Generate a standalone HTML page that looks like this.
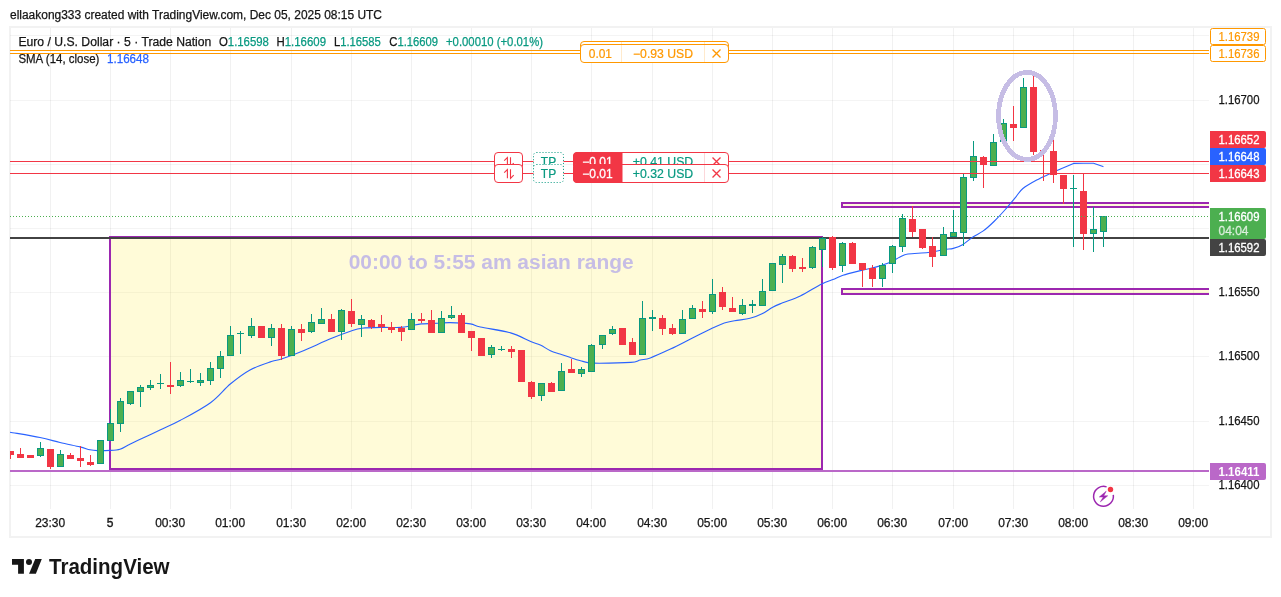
<!DOCTYPE html><html><head><meta charset="utf-8"><title>chart</title>
<style>
html,body{margin:0;padding:0;background:#fff;}
body{width:1281px;height:597px;position:relative;overflow:hidden;font-family:"Liberation Sans",sans-serif;}
svg{position:absolute;left:0;top:0;will-change:transform;}
text{font-family:"Liberation Sans",sans-serif;}
.d{stroke:#151515;stroke-width:0.25px;}
.t{position:absolute;white-space:nowrap;font-size:12px;line-height:14px;color:#131722;}
</style></head><body>
<svg width="1281" height="597" viewBox="0 0 1281 597">
<rect x="10" y="27" width="1261" height="510" fill="#fff" stroke="#F2F2F2" stroke-width="2"/>
<defs><clipPath id="plot"><rect x="10" y="28" width="1199" height="481"/></clipPath></defs>
<g clip-path="url(#plot)">
<rect x="50.0" y="28" width="1" height="481" fill="#000" fill-opacity="0.055"/><rect x="110.0" y="28" width="1" height="481" fill="#000" fill-opacity="0.055"/><rect x="170.0" y="28" width="1" height="481" fill="#000" fill-opacity="0.055"/><rect x="230.0" y="28" width="1" height="481" fill="#000" fill-opacity="0.055"/><rect x="291.0" y="28" width="1" height="481" fill="#000" fill-opacity="0.055"/><rect x="351.0" y="28" width="1" height="481" fill="#000" fill-opacity="0.055"/><rect x="411.0" y="28" width="1" height="481" fill="#000" fill-opacity="0.055"/><rect x="471.0" y="28" width="1" height="481" fill="#000" fill-opacity="0.055"/><rect x="531.0" y="28" width="1" height="481" fill="#000" fill-opacity="0.055"/><rect x="591.0" y="28" width="1" height="481" fill="#000" fill-opacity="0.055"/><rect x="652.0" y="28" width="1" height="481" fill="#000" fill-opacity="0.055"/><rect x="712.0" y="28" width="1" height="481" fill="#000" fill-opacity="0.055"/><rect x="772.0" y="28" width="1" height="481" fill="#000" fill-opacity="0.055"/><rect x="832.0" y="28" width="1" height="481" fill="#000" fill-opacity="0.055"/><rect x="892.0" y="28" width="1" height="481" fill="#000" fill-opacity="0.055"/><rect x="953.0" y="28" width="1" height="481" fill="#000" fill-opacity="0.055"/><rect x="1013.0" y="28" width="1" height="481" fill="#000" fill-opacity="0.055"/><rect x="1073.0" y="28" width="1" height="481" fill="#000" fill-opacity="0.055"/><rect x="1133.0" y="28" width="1" height="481" fill="#000" fill-opacity="0.055"/><rect x="1193.0" y="28" width="1" height="481" fill="#000" fill-opacity="0.055"/><rect x="10" y="35" width="1199" height="1" fill="#000" fill-opacity="0.045"/><rect x="10" y="100" width="1199" height="1" fill="#000" fill-opacity="0.045"/><rect x="10" y="164" width="1199" height="1" fill="#000" fill-opacity="0.045"/><rect x="10" y="228" width="1199" height="1" fill="#000" fill-opacity="0.045"/><rect x="10" y="292" width="1199" height="1" fill="#000" fill-opacity="0.045"/><rect x="10" y="356" width="1199" height="1" fill="#000" fill-opacity="0.045"/><rect x="10" y="421" width="1199" height="1" fill="#000" fill-opacity="0.045"/><rect x="10" y="485" width="1199" height="1" fill="#000" fill-opacity="0.045"/>
<rect x="110" y="237" width="712" height="232" fill="rgba(255,235,59,0.2)" stroke="#9C27B0" stroke-width="2" shape-rendering="crispEdges"/>
<rect x="842" y="203" width="380" height="4" fill="rgba(255,235,59,0.2)" stroke="#9C27B0" stroke-width="2" shape-rendering="crispEdges"/>
<rect x="842" y="289" width="380" height="5" fill="rgba(255,235,59,0.2)" stroke="#9C27B0" stroke-width="2" shape-rendering="crispEdges"/>
<text x="491.2" y="269.3" text-anchor="middle" font-size="20" font-weight="bold" fill="#C6BDE5" textLength="285" lengthAdjust="spacingAndGlyphs">00:00 to 5:55 am asian range</text>
<rect x="10" y="470" width="1199" height="2" fill="#BA68C8"/>
<rect x="10" y="237" width="1199" height="2" fill="#424242"/>
<path d="M10,432.2 C15.0,433.1 31.7,435.8 40,437.5 C48.3,439.2 53.3,440.9 60,442.5 C66.7,444.1 75.0,445.7 80,446.9 C85.0,448.1 87.1,449.2 90,449.8 C92.9,450.4 94.2,450.5 97.5,450.6 C100.8,450.7 106.2,450.6 110,450.4 C113.8,450.2 117.0,450.1 120,449.2 C123.0,448.3 125.4,446.4 128.3,445 C131.2,443.6 132.2,443.1 137.5,440.6 C142.8,438.1 152.8,433.4 160,430 C167.2,426.6 172.0,424.9 180.4,420.3 C188.8,415.8 202.1,408.8 210.5,402.7 C218.9,396.6 224.0,389.2 230.6,383.8 C237.2,378.4 243.2,373.7 250,370 C256.8,366.3 266.2,363.4 271.4,361.6 C276.6,359.8 276.4,360.8 281.4,359.1 C286.4,357.4 293.1,355.0 301.5,351.5 C309.9,348.0 323.3,341.8 331.7,338.3 C340.1,334.9 346.8,332.5 351.8,330.8 C356.8,329.1 357.0,328.9 361.8,328.3 C366.6,327.7 374.2,327.5 380.7,327.4 C387.2,327.2 395.7,327.7 400.8,327.4 C405.9,327.1 407.9,326.4 411.3,325.8 C414.7,325.2 417.0,324.3 421.4,323.9 C425.8,323.5 432.9,323.4 437.7,323.2 C442.5,323.0 444.9,322.5 450.3,322.6 C455.8,322.7 465.4,323.2 470.4,323.9 C475.4,324.6 473.7,325.5 480.4,327 C487.1,328.5 502.2,330.5 510.6,332.9 C519.0,335.3 525.8,339.5 530.7,341.5 C535.7,343.5 537.0,343.5 540.3,345 C543.6,346.5 547.1,349.2 550.4,350.7 C553.7,352.2 556.6,352.9 560,354 C563.4,355.1 567.1,356.5 570.5,357.6 C573.9,358.7 577.6,359.9 580.5,360.7 C583.4,361.5 584.9,362.2 588,362.6 C591.1,363.0 592.2,363.2 599.3,363.2 C606.4,363.2 624.0,362.9 630.8,362.4 C637.6,361.9 637.0,360.8 640.3,360 C643.5,359.2 645.3,359.7 650.3,357.9 C655.3,356.1 663.7,352.2 670.4,349.1 C677.1,346.0 683.8,342.4 690.5,339 C697.2,335.6 705.4,331.5 710.6,329 C715.8,326.5 717.9,325.3 721.9,323.9 C725.9,322.5 729.8,321.7 734.5,320.8 C739.2,319.9 745.3,319.5 750,318.3 C754.7,317.1 758.8,315.4 762.6,313.5 C766.4,311.6 769.4,309.0 772.7,307.2 C776.1,305.4 778.1,304.7 782.7,302.8 C787.3,300.9 793.8,299.0 800.3,295.9 C806.8,292.8 816.2,286.6 821.7,283.9 C827.2,281.2 829.5,280.9 833,279.5 C836.5,278.1 838.1,276.8 843,275.2 C847.9,273.6 856.6,271.6 862.5,270.1 C868.4,268.6 873.5,267.8 878.2,266.4 C882.9,265.0 887.2,263.6 890.8,262 C894.4,260.4 897.1,258.2 900,256.9 C902.9,255.6 903.3,254.7 908,254 C912.7,253.3 922.0,253.2 928.1,252.5 C934.2,251.8 940.3,250.3 944.5,249.6 C948.7,248.9 950.3,249.2 953.3,248.4 C956.3,247.6 959.4,246.6 962.6,244.7 C965.8,242.8 969.2,239.5 972.6,237.2 C976.0,234.9 979.7,233.5 983.3,230.9 C986.9,228.3 990.3,225.1 994,221.5 C997.7,217.9 1001.8,213.5 1005.3,209.5 C1008.8,205.5 1012.4,201.1 1015.3,197.6 C1018.2,194.1 1019.3,191.4 1022.9,188.5 C1026.5,185.6 1032.1,182.5 1036.7,180 C1041.3,177.5 1046.0,175.6 1050.5,173.5 C1055.0,171.4 1061.3,168.7 1063.5,167.7 L1073.5,163.4 L1083.5,163.3 L1093.5,163.3 L1103,166.6" fill="none" stroke="#2962FF" stroke-width="1.1" stroke-linejoin="round" stroke-linecap="round"/>
<rect x="10.0" y="451" width="1" height="8" fill="#F23645"/><rect x="7.5" y="451.5" width="6" height="3" fill="#F23645" stroke="#F23645" stroke-width="1"/><rect x="20.0" y="448" width="1" height="10" fill="#F23645"/><rect x="17.5" y="454.5" width="6" height="3" fill="#F23645" stroke="#F23645" stroke-width="1"/><rect x="30.0" y="455" width="1" height="3" fill="#F23645"/><rect x="27.5" y="455.5" width="6" height="2" fill="#F23645" stroke="#F23645" stroke-width="1"/><rect x="40.0" y="442" width="1" height="15" fill="#089981"/><rect x="37.5" y="448.5" width="6" height="7" fill="#4CAF50" stroke="#089981" stroke-width="1"/><rect x="50.0" y="449" width="1" height="20" fill="#F23645"/><rect x="47.5" y="449.5" width="6" height="17" fill="#F23645" stroke="#F23645" stroke-width="1"/><rect x="60.0" y="450" width="1" height="17" fill="#089981"/><rect x="57.5" y="454.5" width="6" height="12" fill="#4CAF50" stroke="#089981" stroke-width="1"/><rect x="70.0" y="453" width="1" height="6" fill="#F23645"/><rect x="67.5" y="455.5" width="6" height="3" fill="#F23645" stroke="#F23645" stroke-width="1"/><rect x="80.0" y="446" width="1" height="21" fill="#F23645"/><rect x="77.5" y="458.5" width="6" height="2" fill="#F23645" stroke="#F23645" stroke-width="1"/><rect x="90.0" y="455" width="1" height="11" fill="#F23645"/><rect x="87.5" y="462.5" width="6" height="2" fill="#F23645" stroke="#F23645" stroke-width="1"/><rect x="100.0" y="440" width="1" height="24" fill="#089981"/><rect x="97.5" y="440.5" width="6" height="23" fill="#4CAF50" stroke="#089981" stroke-width="1"/><rect x="110.0" y="409" width="1" height="32" fill="#089981"/><rect x="107.5" y="423.5" width="6" height="17" fill="#4CAF50" stroke="#089981" stroke-width="1"/><rect x="120.0" y="398" width="1" height="34" fill="#089981"/><rect x="117.5" y="401.5" width="6" height="22" fill="#4CAF50" stroke="#089981" stroke-width="1"/><rect x="130.0" y="391" width="1" height="14" fill="#089981"/><rect x="127.5" y="391.5" width="6" height="12" fill="#4CAF50" stroke="#089981" stroke-width="1"/><rect x="140.0" y="385" width="1" height="22" fill="#089981"/><rect x="137.5" y="387.5" width="6" height="4" fill="#4CAF50" stroke="#089981" stroke-width="1"/><rect x="150.0" y="380" width="1" height="10" fill="#089981"/><rect x="147.5" y="385.5" width="6" height="2" fill="#4CAF50" stroke="#089981" stroke-width="1"/><rect x="160.0" y="374" width="1" height="15" fill="#089981"/><rect x="157.0" y="383" width="7" height="1" fill="#089981"/><rect x="170.0" y="362" width="1" height="32" fill="#F23645"/><rect x="167.0" y="385" width="7" height="2" fill="#F23645"/><rect x="180.0" y="372" width="1" height="15" fill="#089981"/><rect x="177.5" y="380.5" width="6" height="5" fill="#4CAF50" stroke="#089981" stroke-width="1"/><rect x="190.0" y="369" width="1" height="14" fill="#089981"/><rect x="187.0" y="381" width="7" height="1" fill="#089981"/><rect x="200.0" y="373" width="1" height="13" fill="#089981"/><rect x="197.5" y="380.5" width="6" height="2" fill="#4CAF50" stroke="#089981" stroke-width="1"/><rect x="210.0" y="362" width="1" height="23" fill="#089981"/><rect x="207.5" y="368.5" width="6" height="12" fill="#4CAF50" stroke="#089981" stroke-width="1"/><rect x="220.0" y="351" width="1" height="27" fill="#089981"/><rect x="217.5" y="356.5" width="6" height="12" fill="#4CAF50" stroke="#089981" stroke-width="1"/><rect x="230.0" y="326" width="1" height="30" fill="#089981"/><rect x="227.5" y="335.5" width="6" height="20" fill="#4CAF50" stroke="#089981" stroke-width="1"/><rect x="240.0" y="331" width="1" height="23" fill="#089981"/><rect x="237.0" y="333" width="7" height="1" fill="#089981"/><rect x="251.0" y="318" width="1" height="20" fill="#089981"/><rect x="248.5" y="326.5" width="6" height="9" fill="#4CAF50" stroke="#089981" stroke-width="1"/><rect x="261.0" y="326" width="1" height="12" fill="#F23645"/><rect x="258.5" y="326.5" width="6" height="11" fill="#F23645" stroke="#F23645" stroke-width="1"/><rect x="271.0" y="324" width="1" height="22" fill="#089981"/><rect x="268.5" y="328.5" width="6" height="9" fill="#4CAF50" stroke="#089981" stroke-width="1"/><rect x="281.0" y="324" width="1" height="36" fill="#F23645"/><rect x="278.5" y="328.5" width="6" height="27" fill="#F23645" stroke="#F23645" stroke-width="1"/><rect x="291.0" y="326" width="1" height="30" fill="#089981"/><rect x="288.5" y="329.5" width="6" height="26" fill="#4CAF50" stroke="#089981" stroke-width="1"/><rect x="301.0" y="324" width="1" height="17" fill="#F23645"/><rect x="298.5" y="329.5" width="6" height="3" fill="#F23645" stroke="#F23645" stroke-width="1"/><rect x="311.0" y="314" width="1" height="19" fill="#089981"/><rect x="308.5" y="322.5" width="6" height="9" fill="#4CAF50" stroke="#089981" stroke-width="1"/><rect x="321.0" y="308" width="1" height="16" fill="#089981"/><rect x="318.5" y="319.5" width="6" height="4" fill="#4CAF50" stroke="#089981" stroke-width="1"/><rect x="331.0" y="314" width="1" height="18" fill="#F23645"/><rect x="328.5" y="319.5" width="6" height="12" fill="#F23645" stroke="#F23645" stroke-width="1"/><rect x="341.0" y="309" width="1" height="31" fill="#089981"/><rect x="338.5" y="310.5" width="6" height="21" fill="#4CAF50" stroke="#089981" stroke-width="1"/><rect x="351.0" y="299" width="1" height="28" fill="#F23645"/><rect x="348.5" y="311.5" width="6" height="12" fill="#F23645" stroke="#F23645" stroke-width="1"/><rect x="361.0" y="315" width="1" height="22" fill="#089981"/><rect x="358.5" y="319.5" width="6" height="5" fill="#4CAF50" stroke="#089981" stroke-width="1"/><rect x="371.0" y="319" width="1" height="10" fill="#F23645"/><rect x="368.5" y="320.5" width="6" height="6" fill="#F23645" stroke="#F23645" stroke-width="1"/><rect x="381.0" y="315" width="1" height="17" fill="#F23645"/><rect x="378.5" y="324.5" width="6" height="2" fill="#F23645" stroke="#F23645" stroke-width="1"/><rect x="391.0" y="322" width="1" height="11" fill="#F23645"/><rect x="388.5" y="327.5" width="6" height="2" fill="#F23645" stroke="#F23645" stroke-width="1"/><rect x="401.0" y="326" width="1" height="15" fill="#F23645"/><rect x="398.5" y="328.5" width="6" height="3" fill="#F23645" stroke="#F23645" stroke-width="1"/><rect x="411.0" y="313" width="1" height="17" fill="#089981"/><rect x="408.5" y="319.5" width="6" height="10" fill="#4CAF50" stroke="#089981" stroke-width="1"/><rect x="421.0" y="313" width="1" height="10" fill="#F23645"/><rect x="418.0" y="319" width="7" height="2" fill="#F23645"/><rect x="431.0" y="310" width="1" height="23" fill="#F23645"/><rect x="428.5" y="320.5" width="6" height="12" fill="#F23645" stroke="#F23645" stroke-width="1"/><rect x="441.0" y="311" width="1" height="22" fill="#089981"/><rect x="438.5" y="318.5" width="6" height="14" fill="#4CAF50" stroke="#089981" stroke-width="1"/><rect x="451.0" y="306" width="1" height="13" fill="#089981"/><rect x="448.5" y="315.5" width="6" height="2" fill="#4CAF50" stroke="#089981" stroke-width="1"/><rect x="461.0" y="313" width="1" height="20" fill="#F23645"/><rect x="458.5" y="315.5" width="6" height="17" fill="#F23645" stroke="#F23645" stroke-width="1"/><rect x="471.0" y="331" width="1" height="20" fill="#F23645"/><rect x="468.5" y="331.5" width="6" height="6" fill="#F23645" stroke="#F23645" stroke-width="1"/><rect x="481.0" y="338" width="1" height="18" fill="#F23645"/><rect x="478.5" y="338.5" width="6" height="17" fill="#F23645" stroke="#F23645" stroke-width="1"/><rect x="491.0" y="345" width="1" height="13" fill="#089981"/><rect x="488.5" y="347.5" width="6" height="7" fill="#4CAF50" stroke="#089981" stroke-width="1"/><rect x="501.0" y="346" width="1" height="5" fill="#089981"/><rect x="498.0" y="349" width="7" height="1" fill="#089981"/><rect x="511.0" y="346" width="1" height="12" fill="#F23645"/><rect x="508.5" y="349.5" width="6" height="2" fill="#F23645" stroke="#F23645" stroke-width="1"/><rect x="521.0" y="350" width="1" height="32" fill="#F23645"/><rect x="518.5" y="350.5" width="6" height="31" fill="#F23645" stroke="#F23645" stroke-width="1"/><rect x="531.0" y="381" width="1" height="18" fill="#F23645"/><rect x="528.5" y="382.5" width="6" height="14" fill="#F23645" stroke="#F23645" stroke-width="1"/><rect x="541.0" y="383" width="1" height="18" fill="#089981"/><rect x="538.5" y="383.5" width="6" height="12" fill="#4CAF50" stroke="#089981" stroke-width="1"/><rect x="551.0" y="382" width="1" height="10" fill="#F23645"/><rect x="548.5" y="383.5" width="6" height="8" fill="#F23645" stroke="#F23645" stroke-width="1"/><rect x="561.0" y="363" width="1" height="28" fill="#089981"/><rect x="558.5" y="371.5" width="6" height="19" fill="#4CAF50" stroke="#089981" stroke-width="1"/><rect x="571.0" y="359" width="1" height="14" fill="#F23645"/><rect x="568.5" y="369.5" width="6" height="3" fill="#F23645" stroke="#F23645" stroke-width="1"/><rect x="581.0" y="367" width="1" height="10" fill="#089981"/><rect x="578.5" y="369.5" width="6" height="4" fill="#4CAF50" stroke="#089981" stroke-width="1"/><rect x="591.0" y="344" width="1" height="28" fill="#089981"/><rect x="588.5" y="345.5" width="6" height="26" fill="#4CAF50" stroke="#089981" stroke-width="1"/><rect x="602.0" y="335" width="1" height="14" fill="#089981"/><rect x="599.5" y="335.5" width="6" height="9" fill="#4CAF50" stroke="#089981" stroke-width="1"/><rect x="612.0" y="326" width="1" height="9" fill="#089981"/><rect x="609.5" y="329.5" width="6" height="4" fill="#4CAF50" stroke="#089981" stroke-width="1"/><rect x="622.0" y="328" width="1" height="17" fill="#F23645"/><rect x="619.5" y="328.5" width="6" height="16" fill="#F23645" stroke="#F23645" stroke-width="1"/><rect x="632.0" y="338" width="1" height="17" fill="#F23645"/><rect x="629.5" y="342.5" width="6" height="12" fill="#F23645" stroke="#F23645" stroke-width="1"/><rect x="642.0" y="301" width="1" height="54" fill="#089981"/><rect x="639.5" y="318.5" width="6" height="36" fill="#4CAF50" stroke="#089981" stroke-width="1"/><rect x="652.0" y="310" width="1" height="21" fill="#089981"/><rect x="649.0" y="317" width="7" height="2" fill="#089981"/><rect x="662.0" y="315" width="1" height="20" fill="#F23645"/><rect x="659.5" y="318.5" width="6" height="10" fill="#F23645" stroke="#F23645" stroke-width="1"/><rect x="672.0" y="324" width="1" height="11" fill="#F23645"/><rect x="669.5" y="328.5" width="6" height="5" fill="#F23645" stroke="#F23645" stroke-width="1"/><rect x="682.0" y="310" width="1" height="24" fill="#089981"/><rect x="679.5" y="319.5" width="6" height="14" fill="#4CAF50" stroke="#089981" stroke-width="1"/><rect x="692.0" y="305" width="1" height="14" fill="#089981"/><rect x="689.5" y="308.5" width="6" height="10" fill="#4CAF50" stroke="#089981" stroke-width="1"/><rect x="702.0" y="301" width="1" height="17" fill="#F23645"/><rect x="699.5" y="309.5" width="6" height="2" fill="#F23645" stroke="#F23645" stroke-width="1"/><rect x="712.0" y="279" width="1" height="35" fill="#089981"/><rect x="709.5" y="294.5" width="6" height="17" fill="#4CAF50" stroke="#089981" stroke-width="1"/><rect x="722.0" y="287" width="1" height="23" fill="#F23645"/><rect x="719.5" y="292.5" width="6" height="14" fill="#F23645" stroke="#F23645" stroke-width="1"/><rect x="732.0" y="297" width="1" height="15" fill="#F23645"/><rect x="729.5" y="308.5" width="6" height="3" fill="#F23645" stroke="#F23645" stroke-width="1"/><rect x="742.0" y="299" width="1" height="16" fill="#089981"/><rect x="739.5" y="305.5" width="6" height="8" fill="#4CAF50" stroke="#089981" stroke-width="1"/><rect x="752.0" y="300" width="1" height="13" fill="#089981"/><rect x="749.0" y="304" width="7" height="2" fill="#089981"/><rect x="762.0" y="279" width="1" height="27" fill="#089981"/><rect x="759.5" y="291.5" width="6" height="14" fill="#4CAF50" stroke="#089981" stroke-width="1"/><rect x="772.0" y="263" width="1" height="28" fill="#089981"/><rect x="769.5" y="263.5" width="6" height="27" fill="#4CAF50" stroke="#089981" stroke-width="1"/><rect x="782.0" y="254" width="1" height="29" fill="#089981"/><rect x="779.5" y="256.5" width="6" height="8" fill="#4CAF50" stroke="#089981" stroke-width="1"/><rect x="792.0" y="255" width="1" height="17" fill="#F23645"/><rect x="789.5" y="256.5" width="6" height="12" fill="#F23645" stroke="#F23645" stroke-width="1"/><rect x="802.0" y="258" width="1" height="14" fill="#F23645"/><rect x="799.0" y="267" width="7" height="2" fill="#F23645"/><rect x="812.0" y="246" width="1" height="23" fill="#089981"/><rect x="809.5" y="247.5" width="6" height="20" fill="#4CAF50" stroke="#089981" stroke-width="1"/><rect x="822.0" y="237" width="1" height="30" fill="#089981"/><rect x="819.5" y="238.5" width="6" height="11" fill="#4CAF50" stroke="#089981" stroke-width="1"/><rect x="832.0" y="236" width="1" height="34" fill="#F23645"/><rect x="829.5" y="237.5" width="6" height="30" fill="#F23645" stroke="#F23645" stroke-width="1"/><rect x="842.0" y="242" width="1" height="30" fill="#089981"/><rect x="839.5" y="243.5" width="6" height="22" fill="#4CAF50" stroke="#089981" stroke-width="1"/><rect x="852.0" y="242" width="1" height="22" fill="#F23645"/><rect x="849.5" y="243.5" width="6" height="20" fill="#F23645" stroke="#F23645" stroke-width="1"/><rect x="862.0" y="263" width="1" height="24" fill="#F23645"/><rect x="859.5" y="263.5" width="6" height="6" fill="#F23645" stroke="#F23645" stroke-width="1"/><rect x="872.0" y="265" width="1" height="22" fill="#F23645"/><rect x="869.5" y="268.5" width="6" height="10" fill="#F23645" stroke="#F23645" stroke-width="1"/><rect x="882.0" y="263" width="1" height="24" fill="#089981"/><rect x="879.5" y="265.5" width="6" height="13" fill="#4CAF50" stroke="#089981" stroke-width="1"/><rect x="892.0" y="245" width="1" height="28" fill="#089981"/><rect x="889.5" y="246.5" width="6" height="17" fill="#4CAF50" stroke="#089981" stroke-width="1"/><rect x="902.0" y="214" width="1" height="38" fill="#089981"/><rect x="899.5" y="218.5" width="6" height="28" fill="#4CAF50" stroke="#089981" stroke-width="1"/><rect x="912.0" y="206" width="1" height="31" fill="#F23645"/><rect x="909.5" y="219.5" width="6" height="12" fill="#F23645" stroke="#F23645" stroke-width="1"/><rect x="922.0" y="229" width="1" height="20" fill="#F23645"/><rect x="919.5" y="229.5" width="6" height="18" fill="#F23645" stroke="#F23645" stroke-width="1"/><rect x="932.0" y="237" width="1" height="30" fill="#F23645"/><rect x="929.5" y="246.5" width="6" height="10" fill="#F23645" stroke="#F23645" stroke-width="1"/><rect x="943.0" y="227" width="1" height="29" fill="#089981"/><rect x="940.5" y="234.5" width="6" height="21" fill="#4CAF50" stroke="#089981" stroke-width="1"/><rect x="953.0" y="210" width="1" height="27" fill="#089981"/><rect x="950.5" y="232.5" width="6" height="4" fill="#4CAF50" stroke="#089981" stroke-width="1"/><rect x="963.0" y="173" width="1" height="73" fill="#089981"/><rect x="960.5" y="177.5" width="6" height="55" fill="#4CAF50" stroke="#089981" stroke-width="1"/><rect x="973.0" y="141" width="1" height="40" fill="#089981"/><rect x="970.5" y="156.5" width="6" height="21" fill="#4CAF50" stroke="#089981" stroke-width="1"/><rect x="983.0" y="156" width="1" height="32" fill="#F23645"/><rect x="980.5" y="157.5" width="6" height="7" fill="#F23645" stroke="#F23645" stroke-width="1"/><rect x="993.0" y="134" width="1" height="32" fill="#089981"/><rect x="990.5" y="142.5" width="6" height="23" fill="#4CAF50" stroke="#089981" stroke-width="1"/><rect x="1003.0" y="119" width="1" height="23" fill="#089981"/><rect x="1000.5" y="123.5" width="6" height="18" fill="#4CAF50" stroke="#089981" stroke-width="1"/><rect x="1013.0" y="106" width="1" height="35" fill="#F23645"/><rect x="1010.5" y="124.5" width="6" height="3" fill="#F23645" stroke="#F23645" stroke-width="1"/><rect x="1023.0" y="78" width="1" height="50" fill="#089981"/><rect x="1020.5" y="87.5" width="6" height="40" fill="#4CAF50" stroke="#089981" stroke-width="1"/><rect x="1033.0" y="76" width="1" height="79" fill="#F23645"/><rect x="1030.5" y="87.5" width="6" height="64" fill="#F23645" stroke="#F23645" stroke-width="1"/><rect x="1043.0" y="150" width="1" height="31" fill="#F23645"/><rect x="1040.0" y="150" width="7" height="1" fill="#F23645"/><rect x="1053.0" y="140" width="1" height="43" fill="#F23645"/><rect x="1050.5" y="151.5" width="6" height="23" fill="#F23645" stroke="#F23645" stroke-width="1"/><rect x="1063.0" y="175" width="1" height="29" fill="#F23645"/><rect x="1060.5" y="175.5" width="6" height="13" fill="#F23645" stroke="#F23645" stroke-width="1"/><rect x="1073.0" y="175" width="1" height="72" fill="#089981"/><rect x="1070.0" y="188" width="7" height="1" fill="#089981"/><rect x="1083.0" y="173" width="1" height="77" fill="#F23645"/><rect x="1080.5" y="191.5" width="6" height="42" fill="#F23645" stroke="#F23645" stroke-width="1"/><rect x="1093.0" y="207" width="1" height="45" fill="#089981"/><rect x="1090.5" y="229.5" width="6" height="4" fill="#4CAF50" stroke="#089981" stroke-width="1"/><rect x="1103.0" y="216" width="1" height="31" fill="#089981"/><rect x="1100.5" y="216.5" width="6" height="15" fill="#4CAF50" stroke="#089981" stroke-width="1"/>
<line x1="10" y1="216.5" x2="1209" y2="216.5" stroke="#4CAF50" stroke-width="1" stroke-dasharray="1 2"/>
<rect x="10" y="161" width="1199" height="1" fill="#F23645"/><rect x="10" y="173" width="1199" height="1" fill="#F23645"/>
<rect x="10" y="50" width="1199" height="1" fill="#FF9800"/><rect x="10" y="53" width="1199" height="1" fill="#FF9800"/>
<ellipse cx="1027" cy="115.95" rx="28.5" ry="43.55" fill="none" stroke="#C6BDE5" stroke-width="4.8" shape-rendering="crispEdges"/>
<rect x="580.5" y="41.5" width="148" height="18" rx="3.5" fill="#fff" stroke="#FF9800"/><rect x="621" y="42.0" width="1" height="17" fill="#FF9800" opacity="0.2"/><rect x="704" y="42.0" width="1" height="17" fill="#FF9800" opacity="0.2"/><text x="600.4" y="54.8" text-anchor="middle" font-size="12" fill="#FF9800" stroke="#FF9800" stroke-width="0.2" textLength="23.2" lengthAdjust="spacingAndGlyphs">0.01</text><text x="663" y="54.8" text-anchor="middle" font-size="12" fill="#FF9800" stroke="#FF9800" stroke-width="0.2" textLength="60" lengthAdjust="spacingAndGlyphs">−0.93 USD</text><path d="M712.5 46.5 l8 8 m0 -8 l-8 8" stroke="#FF9800" stroke-width="1.3" fill="none"/>
<rect x="580.5" y="44.5" width="148" height="18" rx="3.5" fill="#fff" stroke="#FF9800"/><rect x="621" y="45.0" width="1" height="17" fill="#FF9800" opacity="0.2"/><rect x="704" y="45.0" width="1" height="17" fill="#FF9800" opacity="0.2"/><text x="600.4" y="57.8" text-anchor="middle" font-size="12" fill="#FF9800" stroke="#FF9800" stroke-width="0.2" textLength="23.2" lengthAdjust="spacingAndGlyphs">0.01</text><text x="663" y="57.8" text-anchor="middle" font-size="12" fill="#FF9800" stroke="#FF9800" stroke-width="0.2" textLength="60" lengthAdjust="spacingAndGlyphs">−0.93 USD</text><path d="M712.5 49.5 l8 8 m0 -8 l-8 8" stroke="#FF9800" stroke-width="1.3" fill="none"/>
<rect x="494.5" y="152.5" width="28" height="18" rx="3.5" fill="#fff" stroke="#F23645"/><path d="M507.4 166.3 V157.5 l-3.2 3.2 M510.5 157.3 V166.3 l3.2 -3.2" stroke="#F23645" stroke-width="1.1" fill="none"/><rect x="533.5" y="152.5" width="30" height="18" rx="3" fill="#fff" stroke="#089981" stroke-dasharray="1 2"/><text x="548.5" y="165.8" text-anchor="middle" font-size="12" fill="#089981" stroke="#089981" stroke-width="0.2">TP</text><rect x="573.5" y="152.5" width="155" height="18" rx="3.5" fill="#fff" stroke="#F23645"/><path d="M577 152.5 h45 v18 h-45 a3.5 3.5 0 0 1 -3.5 -3.5 v-11 a3.5 3.5 0 0 1 3.5 -3.5 z" fill="#F23645" stroke="#F23645"/><text x="597.5" y="165.8" text-anchor="middle" font-size="12" fill="#fff" stroke="#fff" stroke-width="0.3">−0.01</text><text x="663" y="165.8" text-anchor="middle" font-size="12" fill="#089981" stroke="#089981" stroke-width="0.2" textLength="60.5" lengthAdjust="spacingAndGlyphs">+0.41 USD</text><rect x="704" y="153.0" width="1" height="17" fill="#F23645" opacity="0.2"/><path d="M712.5 157.5 l8 8 m0 -8 l-8 8" stroke="#F23645" stroke-width="1.3" fill="none"/>
<rect x="494.5" y="164.5" width="28" height="18" rx="3.5" fill="#fff" stroke="#F23645"/><path d="M507.4 178.3 V169.5 l-3.2 3.2 M510.5 169.3 V178.3 l3.2 -3.2" stroke="#F23645" stroke-width="1.1" fill="none"/><rect x="533.5" y="164.5" width="30" height="18" rx="3" fill="#fff" stroke="#089981" stroke-dasharray="1 2"/><text x="548.5" y="177.8" text-anchor="middle" font-size="12" fill="#089981" stroke="#089981" stroke-width="0.2">TP</text><rect x="573.5" y="164.5" width="155" height="18" rx="3.5" fill="#fff" stroke="#F23645"/><path d="M577 164.5 h45 v18 h-45 a3.5 3.5 0 0 1 -3.5 -3.5 v-11 a3.5 3.5 0 0 1 3.5 -3.5 z" fill="#F23645" stroke="#F23645"/><text x="597.5" y="177.8" text-anchor="middle" font-size="12" fill="#fff" stroke="#fff" stroke-width="0.3">−0.01</text><text x="663" y="177.8" text-anchor="middle" font-size="12" fill="#089981" stroke="#089981" stroke-width="0.2" textLength="60.5" lengthAdjust="spacingAndGlyphs">+0.32 USD</text><rect x="704" y="165.0" width="1" height="17" fill="#F23645" opacity="0.2"/><path d="M712.5 169.5 l8 8 m0 -8 l-8 8" stroke="#F23645" stroke-width="1.3" fill="none"/>
</g>
<circle cx="1103.5" cy="496.4" r="12" fill="#fff"/>
<path d="M1106.6 486.9 A9.9 9.9 0 1 0 1113.3 494.9" fill="none" stroke="#9C27B0" stroke-width="1.5"/>
<path d="M1106.2 491.2 L1099.3 497 L1103.3 497 L1100.4 501.8 L1107.7 495.8 L1103.7 495.8 Z" fill="#9C27B0" stroke="#9C27B0" stroke-width="0.5" stroke-linejoin="round"/>
<circle cx="1110.5" cy="489.5" r="2.7" fill="#F23645"/>
<rect x="1210.5" y="28.5" width="55" height="16" rx="2" fill="#fff" stroke="#FF9800"/><text x="1218.5" y="40.5" font-size="12" fill="#FF9800" fill-opacity="1" stroke-opacity="1" textLength="41" lengthAdjust="spacingAndGlyphs" stroke="#FF9800" stroke-width="0.2">1.16739</text>
<rect x="1210.5" y="45.5" width="55" height="16" rx="2" fill="#fff" stroke="#FF9800"/><text x="1218.5" y="57.5" font-size="12" fill="#FF9800" fill-opacity="1" stroke-opacity="1" textLength="41" lengthAdjust="spacingAndGlyphs" stroke="#FF9800" stroke-width="0.2">1.16736</text>
<path d="M1210 131 h54 a2 2 0 0 1 2 2 v13 a2 2 0 0 1 -2 2 h-54 z" fill="#F23645"/><text x="1218.5" y="143.8" font-size="12" fill="#fff" fill-opacity="1" stroke-opacity="1" textLength="41" lengthAdjust="spacingAndGlyphs" stroke="#fff" stroke-width="0.3">1.16652</text>
<path d="M1210 165 h54 a2 2 0 0 1 2 2 v13 a2 2 0 0 1 -2 2 h-54 z" fill="#F23645"/><text x="1218.5" y="177.8" font-size="12" fill="#fff" fill-opacity="1" stroke-opacity="1" textLength="41" lengthAdjust="spacingAndGlyphs" stroke="#fff" stroke-width="0.3">1.16643</text>
<path d="M1210 148 h54 a2 2 0 0 1 2 2 v13 a2 2 0 0 1 -2 2 h-54 z" fill="#2962FF"/><text x="1218.5" y="160.8" font-size="12" fill="#fff" fill-opacity="1" stroke-opacity="1" textLength="41" lengthAdjust="spacingAndGlyphs" stroke="#fff" stroke-width="0.3">1.16648</text>
<path d="M1210 208 h54 a2 2 0 0 1 2 2 v27 a2 2 0 0 1 -2 2 h-54 z" fill="#4CAF50"/><text x="1218.5" y="220.8" font-size="12" fill="#fff" fill-opacity="1" stroke-opacity="1" textLength="41" lengthAdjust="spacingAndGlyphs" stroke="#fff" stroke-width="0.3">1.16609</text><text x="1218.5" y="234.8" font-size="12" fill="#fff" fill-opacity="0.7" stroke-opacity="0.7" stroke="#fff" stroke-width="0.3">04:04</text>
<path d="M1210 239 h54 a2 2 0 0 1 2 2 v13 a2 2 0 0 1 -2 2 h-54 z" fill="#434343"/><text x="1218.5" y="251.8" font-size="12" fill="#fff" fill-opacity="1" stroke-opacity="1" textLength="41" lengthAdjust="spacingAndGlyphs" stroke="#fff" stroke-width="0.3">1.16592</text>
<text x="1218.5" y="103.8" font-size="12" fill="#151515" class="d" textLength="41" lengthAdjust="spacingAndGlyphs">1.16700</text>
<text x="1218.5" y="295.8" font-size="12" fill="#151515" class="d" textLength="41" lengthAdjust="spacingAndGlyphs">1.16550</text>
<text x="1218.5" y="359.8" font-size="12" fill="#151515" class="d" textLength="41" lengthAdjust="spacingAndGlyphs">1.16500</text>
<text x="1218.5" y="424.8" font-size="12" fill="#151515" class="d" textLength="41" lengthAdjust="spacingAndGlyphs">1.16450</text>
<text x="1218.5" y="488.8" font-size="12" fill="#151515" class="d" textLength="41" lengthAdjust="spacingAndGlyphs">1.16400</text>
<path d="M1210 463 h54 a2 2 0 0 1 2 2 v13 a2 2 0 0 1 -2 2 h-54 z" fill="#BA68C8"/><text x="1218.5" y="475.8" font-size="12" fill="#fff" fill-opacity="1" stroke-opacity="1" textLength="41" lengthAdjust="spacingAndGlyphs" font-weight="bold">1.16411</text>
<text x="50.2" y="527" text-anchor="middle" font-size="12" fill="#151515" class="d">23:30</text>
<text x="110.2" y="527" text-anchor="middle" font-size="12" fill="#151515" class="d" style="stroke-width:0.38px">5</text>
<text x="170.2" y="527" text-anchor="middle" font-size="12" fill="#151515" class="d">00:30</text>
<text x="230.2" y="527" text-anchor="middle" font-size="12" fill="#151515" class="d">01:00</text>
<text x="291.2" y="527" text-anchor="middle" font-size="12" fill="#151515" class="d">01:30</text>
<text x="351.2" y="527" text-anchor="middle" font-size="12" fill="#151515" class="d">02:00</text>
<text x="411.2" y="527" text-anchor="middle" font-size="12" fill="#151515" class="d">02:30</text>
<text x="471.2" y="527" text-anchor="middle" font-size="12" fill="#151515" class="d">03:00</text>
<text x="531.2" y="527" text-anchor="middle" font-size="12" fill="#151515" class="d">03:30</text>
<text x="591.2" y="527" text-anchor="middle" font-size="12" fill="#151515" class="d">04:00</text>
<text x="652.2" y="527" text-anchor="middle" font-size="12" fill="#151515" class="d">04:30</text>
<text x="712.2" y="527" text-anchor="middle" font-size="12" fill="#151515" class="d">05:00</text>
<text x="772.2" y="527" text-anchor="middle" font-size="12" fill="#151515" class="d">05:30</text>
<text x="832.2" y="527" text-anchor="middle" font-size="12" fill="#151515" class="d">06:00</text>
<text x="892.2" y="527" text-anchor="middle" font-size="12" fill="#151515" class="d">06:30</text>
<text x="953.2" y="527" text-anchor="middle" font-size="12" fill="#151515" class="d">07:00</text>
<text x="1013.2" y="527" text-anchor="middle" font-size="12" fill="#151515" class="d">07:30</text>
<text x="1073.2" y="527" text-anchor="middle" font-size="12" fill="#151515" class="d">08:00</text>
<text x="1133.2" y="527" text-anchor="middle" font-size="12" fill="#151515" class="d">08:30</text>
<text x="1193.2" y="527" text-anchor="middle" font-size="12" fill="#151515" class="d">09:00</text>
<text x="10" y="18.7" font-size="12" fill="#151515" class="d" textLength="372" lengthAdjust="spacingAndGlyphs">ellaakong333 created with TradingView.com, Dec 05, 2025 08:15 UTC</text>
<text x="18.4" y="45.7" font-size="12" fill="#151515" class="d" textLength="193" lengthAdjust="spacingAndGlyphs">Euro / U.S. Dollar · 5 · Trade Nation</text>
<text x="219" y="45.7" font-size="12" fill="#151515" class="d" textLength="49.9" lengthAdjust="spacingAndGlyphs">O<tspan fill="#089981" stroke="#089981">1.16598</tspan></text>
<text x="276.5" y="45.7" font-size="12" fill="#151515" class="d" textLength="49.5" lengthAdjust="spacingAndGlyphs">H<tspan fill="#089981" stroke="#089981">1.16609</tspan></text>
<text x="334" y="45.7" font-size="12" fill="#151515" class="d" textLength="46.9" lengthAdjust="spacingAndGlyphs">L<tspan fill="#089981" stroke="#089981">1.16585</tspan></text>
<text x="389.3" y="45.7" font-size="12" fill="#151515" class="d" textLength="48.7" lengthAdjust="spacingAndGlyphs">C<tspan fill="#089981" stroke="#089981">1.16609</tspan></text>
<text x="446" y="45.7" font-size="12" fill="#089981" stroke="#089981" stroke-width="0.25" textLength="97" lengthAdjust="spacingAndGlyphs">+0.00010 (+0.01%)</text>
<text x="18.4" y="62.8" font-size="12" fill="#151515" class="d" textLength="81" lengthAdjust="spacingAndGlyphs">SMA (14, close)</text>
<text x="107" y="62.8" font-size="12" fill="#2962FF" stroke="#2962FF" stroke-width="0.25" textLength="42" lengthAdjust="spacingAndGlyphs">1.16648</text>
<g fill="#161616"><path d="M12 559H23.9V573.8H18.1V564.8H12Z"/><circle cx="29" cy="561.9" r="3"/><path d="M35.2 559H41.8L35.9 573.8H29.1Z"/></g>
<text x="49" y="573.8" font-size="21.4" font-weight="bold" fill="#161616" textLength="120.6" lengthAdjust="spacingAndGlyphs">TradingView</text>
</svg></body></html>
